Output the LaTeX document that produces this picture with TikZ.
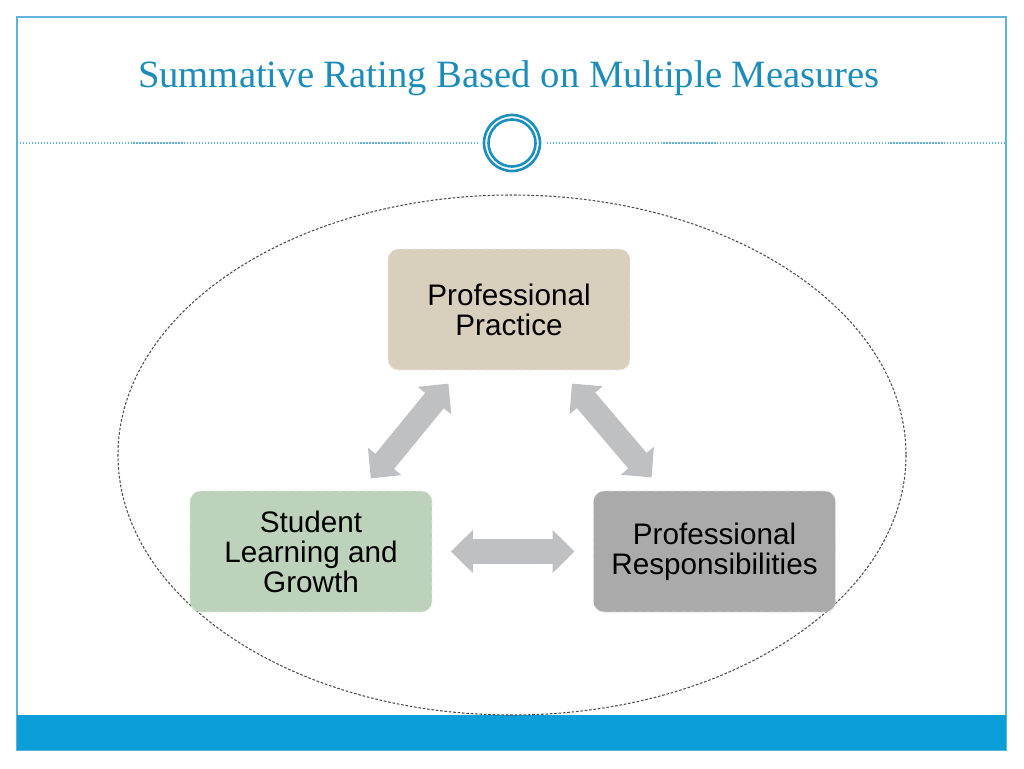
\documentclass[tikz,border=0pt]{standalone}
\usepackage{fontspec}
\setmainfont{Liberation Serif}
\newfontfamily\boxfont{Liberation Sans}
\usetikzlibrary{arrows.meta,calc}

\definecolor{titleblue}{RGB}{28,140,188}
\definecolor{frameblue}{RGB}{95,180,215}
\definecolor{barblue}{RGB}{10,159,216}
\definecolor{ringblue}{RGB}{26,143,192}
\definecolor{practicefill}{RGB}{216,207,189}
\definecolor{learningfill}{RGB}{189,210,187}
\definecolor{dutyfill}{RGB}{170,170,171}
\definecolor{arrowgray}{RGB}{191,192,194}

\begin{document}
\begin{tikzpicture}[x=0.02cm,y=-0.02cm,
    measure/.style={rounded corners=6pt, minimum width=4.84cm, minimum height=2.42cm,
        align=center, inner sep=0pt, draw=white!55!#1, densely dashed, line width=0.4pt,
        fill=#1, font=\boxfont\fontsize{16.9pt}{17.1pt}\selectfont},
    bigarrow/.style={arrowgray, line width=13.7pt,
        {Triangle[length=12.5pt,width=23.9pt]}-{Triangle[length=12.5pt,width=23.9pt]}}]
    \useasboundingbox (0,0) rectangle (1024,768);

    % Rahmen und Fussleiste
    \draw[frameblue, line width=0.6pt] (17,17) rectangle (1006,750);
    \fill[barblue] (17,715) rectangle (1006,750);

    % Titel
    \node[titleblue, font=\fontsize{22pt}{26pt}\selectfont, anchor=base] (title) at (509,87)
        {Summative Rating Based on Multiple Measures};

    % Trennlinie mit Ring
    \draw[frameblue, densely dotted, line width=0.7pt] (17,143) -- (478,143);
    \draw[frameblue, densely dotted, line width=0.7pt] (547,143) -- (1006,143);
    \foreach \r in {28,23.5}
        \draw[ringblue, line width=1.5pt] (512,143) circle[radius=\r];

    % Ellipse
    \draw[black!70, dash pattern=on 1.5pt off 1pt, line width=0.6pt]
        (512,455) ellipse[x radius=394, y radius=260];

    % Kaestchen
    \node[measure=practicefill] (pp) at (509,309.5) {Professional\\Practice};
    \node[measure=learningfill] (sl) at (311,551.5) {Student\\Learning and\\Growth};
    \node[measure=dutyfill] (pr) at (714.5,551.5) {Professional\\Responsibilities};

    % Pfeile
    \draw[bigarrow] ($(pp.center)!0.306!(sl.center)$) -- ($(pp.center)!0.698!(sl.center)$);
    \draw[bigarrow] ($(pp.center)!0.306!(pr.center)$) -- ($(pp.center)!0.694!(pr.center)$);
    \draw[bigarrow] ($(sl.center)!0.347!(pr.center)$) -- ($(sl.center)!0.653!(pr.center)$);
\end{tikzpicture}
\end{document}
